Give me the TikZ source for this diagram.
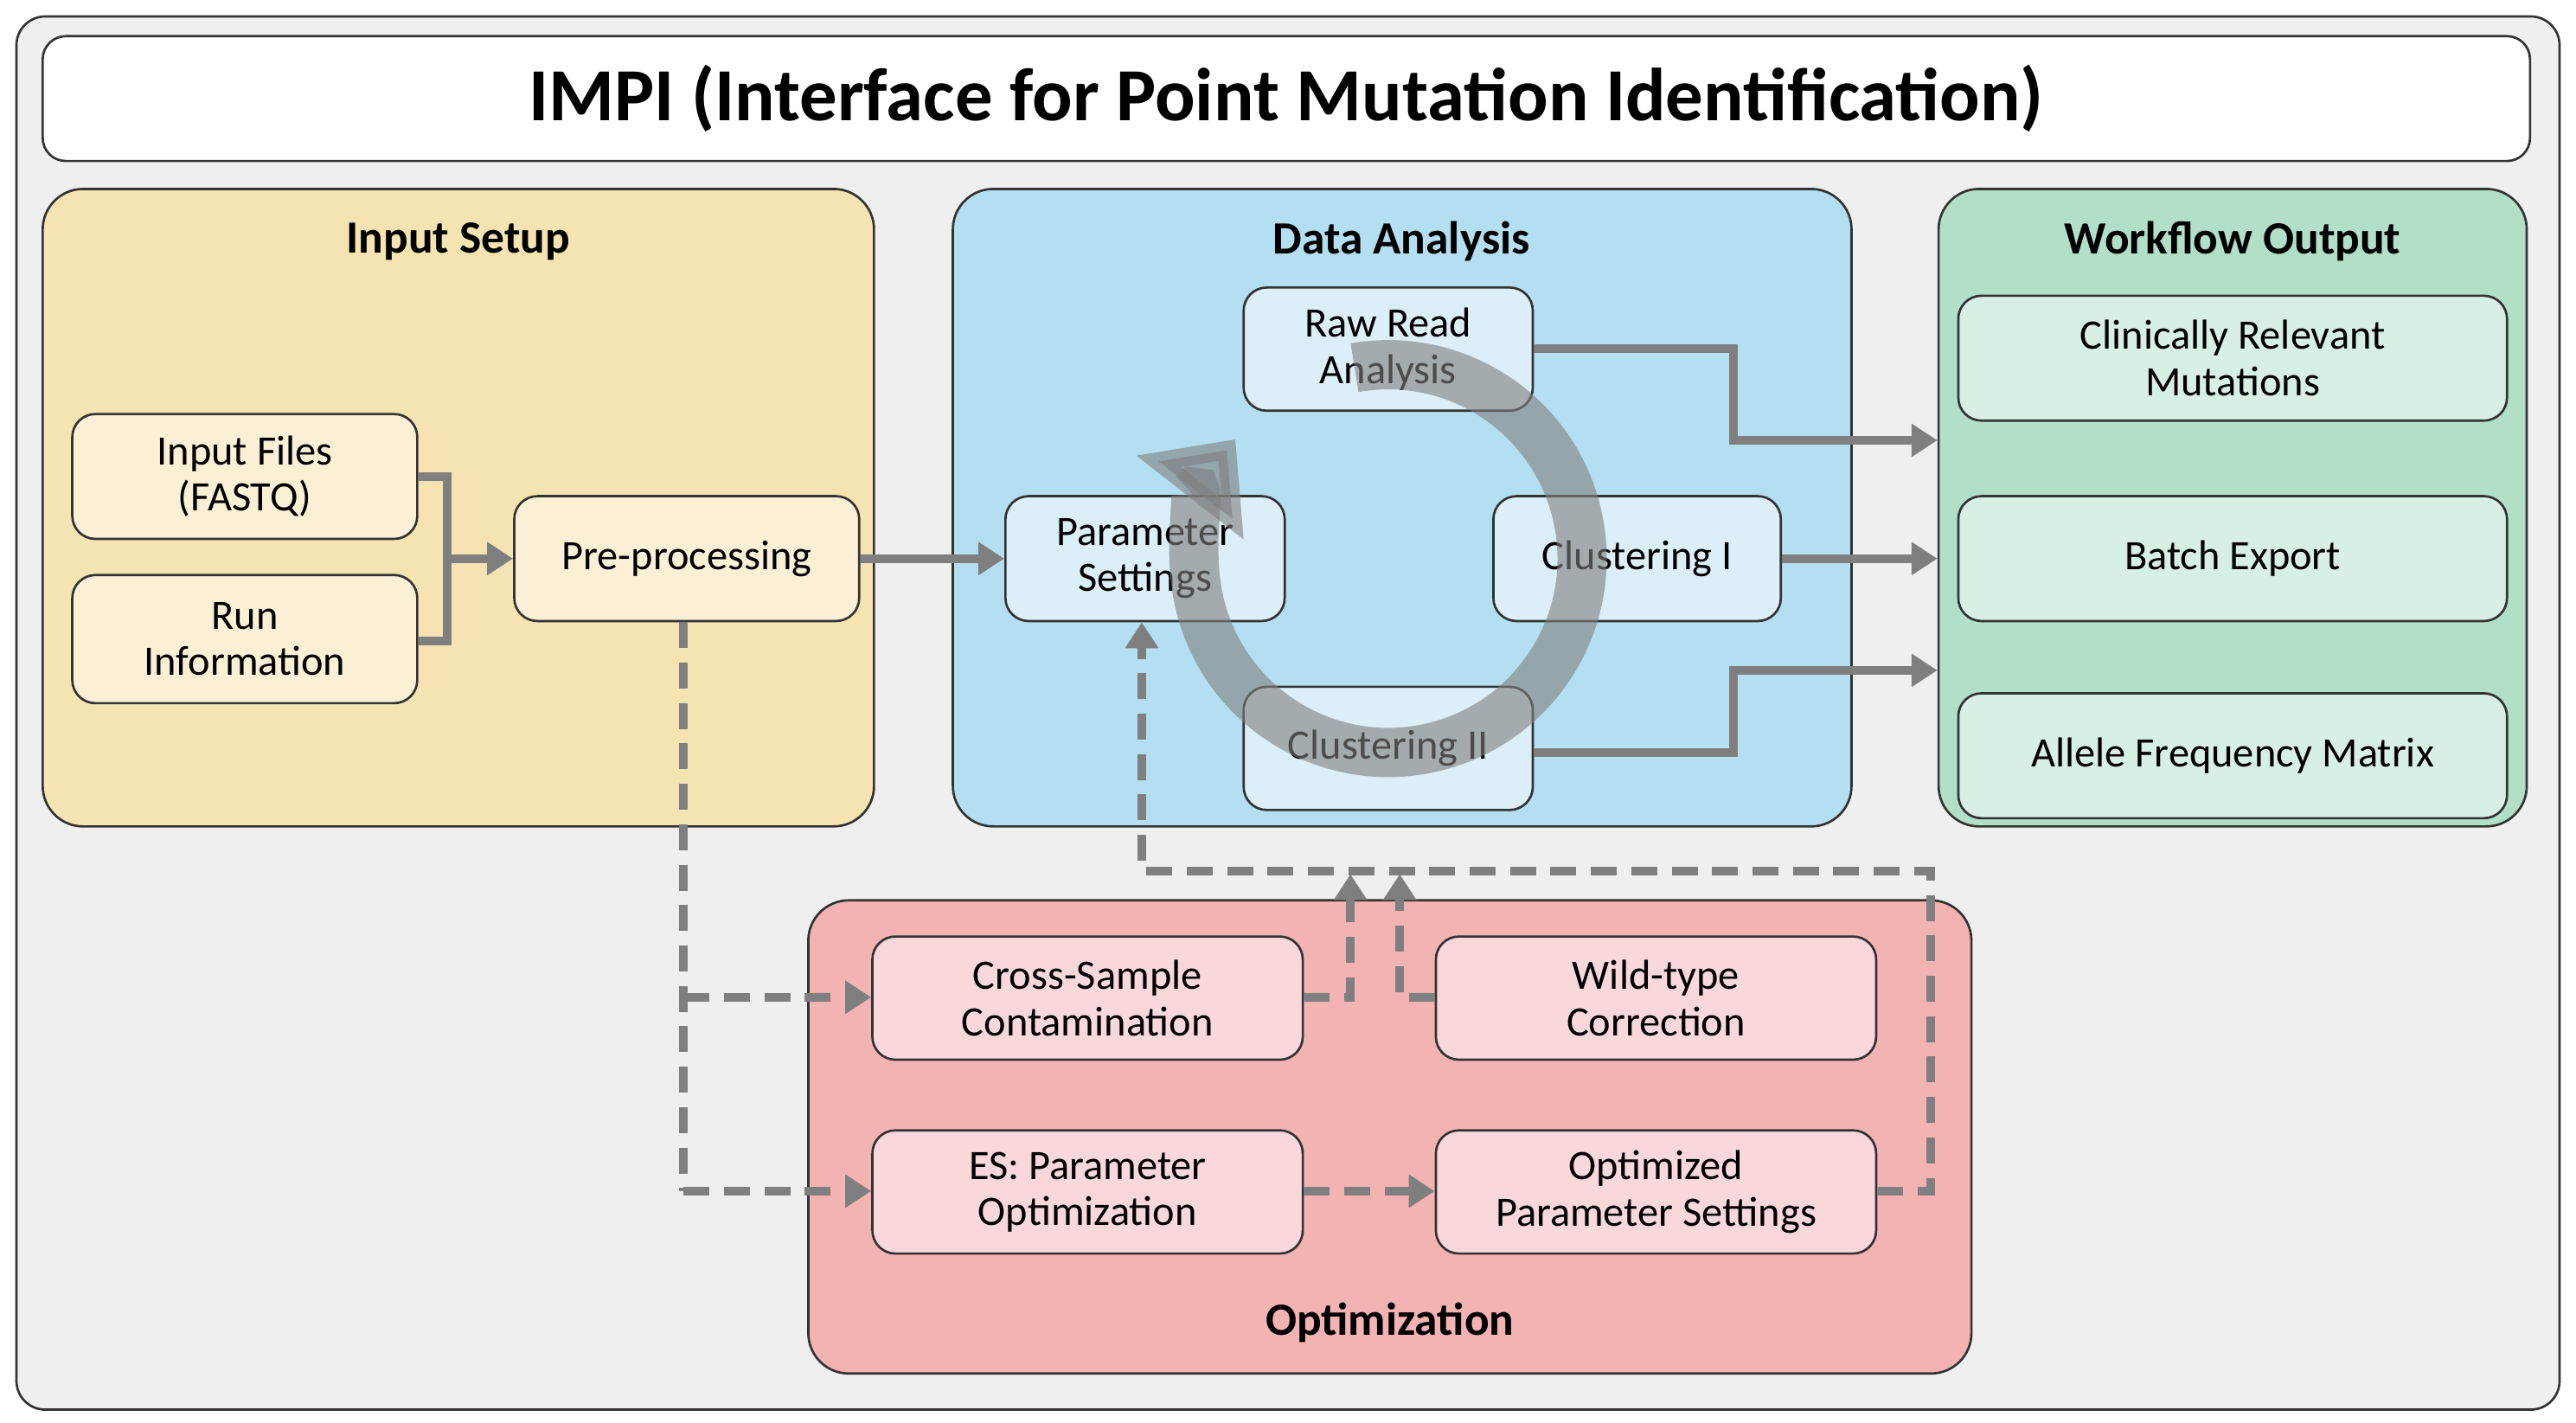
\documentclass[tikz,border=0pt]{standalone}
\usepackage{fontspec}
\setmainfont{Carlito}
\usetikzlibrary{arrows.meta}
\definecolor{frm}{HTML}{EFEFEF}
\definecolor{inA}{HTML}{F5E3B2}\definecolor{inB}{HTML}{FBEFD6}
\definecolor{daA}{HTML}{B4DFF0}\definecolor{daB}{HTML}{DCEEF8}
\definecolor{ouA}{HTML}{B2DFC8}\definecolor{ouB}{HTML}{D8EFE3}
\definecolor{opA}{HTML}{F3B3B3}\definecolor{opB}{HTML}{F8D8DB}
\definecolor{con}{HTML}{7F7F7F}
\newcommand\mybox[7]{\node[#2, minimum width={(#5-#3)*0.02cm}, minimum height={(#6-#4)*0.02cm}] (#1) at ({(#3+#5)/2},{(#4+#6)/2}) {#7};}
\begin{document}
\begin{tikzpicture}[x=0.02cm,y=-0.02cm,
  base/.style={draw=black!80, line width=0.8pt, rounded corners=8pt, inner sep=0pt},
  grp/.style={base, rounded corners=14pt},
  nd/.style={base, align=center, font=\fontsize{14.5}{16}\selectfont},
  gt/.style={font=\bfseries\fontsize{16}{18}\selectfont},
  ar/.style={con, line width=3pt, -{Triangle[length=9pt,width=11pt]}},
  ln/.style={con, line width=3pt},
  da/.style={ar, dash pattern=on 9pt off 5pt},
  dl/.style={ln, dash pattern=on 9pt off 5pt}]
\useasboundingbox (0,0) rectangle (1568,866);
\mybox{outer}{base,fill=frm,rounded corners=10pt}{10}{10}{1558}{858}{}
\mybox{title}{base,fill=white}{26}{22}{1540}{98}{\bfseries\fontsize{26}{30}\selectfont IMPI (Interface for Point Mutation Identification)}
\mybox{gin}{grp,fill=inA}{26}{115}{532}{503}{}
\mybox{gda}{grp,fill=daA}{580}{115}{1127}{503}{}
\mybox{gou}{grp,fill=ouA}{1180}{115}{1538}{503}{}
\mybox{gop}{grp,fill=opA}{492}{548}{1200}{836}{}
\node[gt] (tin) at (279,147) {Input Setup};
\node[gt] (tda) at (853,147) {Data Analysis};
\node[gt] (tou) at (1359,147) {Workflow Output};
\node[gt] (top) at (846,805) {Optimization};
\mybox{inf}{nd,fill=inB}{44}{252}{254}{328}{Input Files\\(FASTQ)}
\mybox{run}{nd,fill=inB}{44}{350}{254}{428}{Run\\Information}
\mybox{pre}{nd,fill=inB}{313}{302}{523}{378}{Pre-processing}
\mybox{par}{nd,fill=daB}{612}{302}{782}{378}{Parameter\\Settings}
\mybox{raw}{nd,fill=daB}{757}{175}{933}{250}{Raw Read\\Analysis}
\mybox{cl1}{nd,fill=daB}{909}{302}{1084}{378}{Clustering I}
\mybox{cl2}{nd,fill=daB}{757}{418}{933}{493}{Clustering II}
\mybox{crm}{nd,fill=ouB}{1192}{180}{1526}{256}{Clinically Relevant\\Mutations}
\mybox{bex}{nd,fill=ouB}{1192}{302}{1526}{378}{Batch Export}
\mybox{afm}{nd,fill=ouB}{1192}{422}{1526}{498}{Allele Frequency Matrix}
\mybox{csc}{nd,fill=opB}{531}{570}{793}{645}{Cross-Sample\\Contamination}
\mybox{wtc}{nd,fill=opB}{874}{570}{1142}{645}{Wild-type\\Correction}
\mybox{esp}{nd,fill=opB}{531}{688}{793}{763}{ES: Parameter\\Optimization}
\mybox{ops}{nd,fill=opB}{874}{688}{1142}{763}{Optimized\\Parameter Settings}
% cycle arrow
\draw[con, opacity=0.6, line width=0.6cm, -{Triangle[length=0.9cm,width=1.6cm]}]
  (845,340) ++(-100:118) arc[start angle=-100, end angle=218, radius=118];
% solid connectors
\coordinate (j1) at (272,340);
\draw[ln] (inf.east|-0,290) -| (j1);
\draw[ln] (run.east|-0,390) -| (j1);
\draw[ar] (j1) -- (pre.west);
\draw[ar] (pre.east) -- (par.west);
\draw[ar] (raw.east|-0,212) -| (1055,268) -- (gou.west|-0,268);
\draw[ar] (cl1.east) -- (gou.west|-cl1.east);
\draw[ar] (cl2.east|-0,458) -| (1055,408) -- (gou.west|-0,408);
% dashed
\draw[dl] (pre.south-|416,0) -- (416,725);
\draw[da] (416,725) -- (esp.west|-0,725);
\draw[da] (416,607) -- (csc.west|-0,607);
\draw[da] (csc.east|-0,607) -| (822,532);
\draw[da] (wtc.west|-0,607) -| (852,532);
\draw[da] (esp.east|-0,725) -- (ops.west|-0,725);
\draw[da] (ops.east|-0,725) -| (1175,530) -| (par.south-|695,0);
\end{tikzpicture}
\end{document}
